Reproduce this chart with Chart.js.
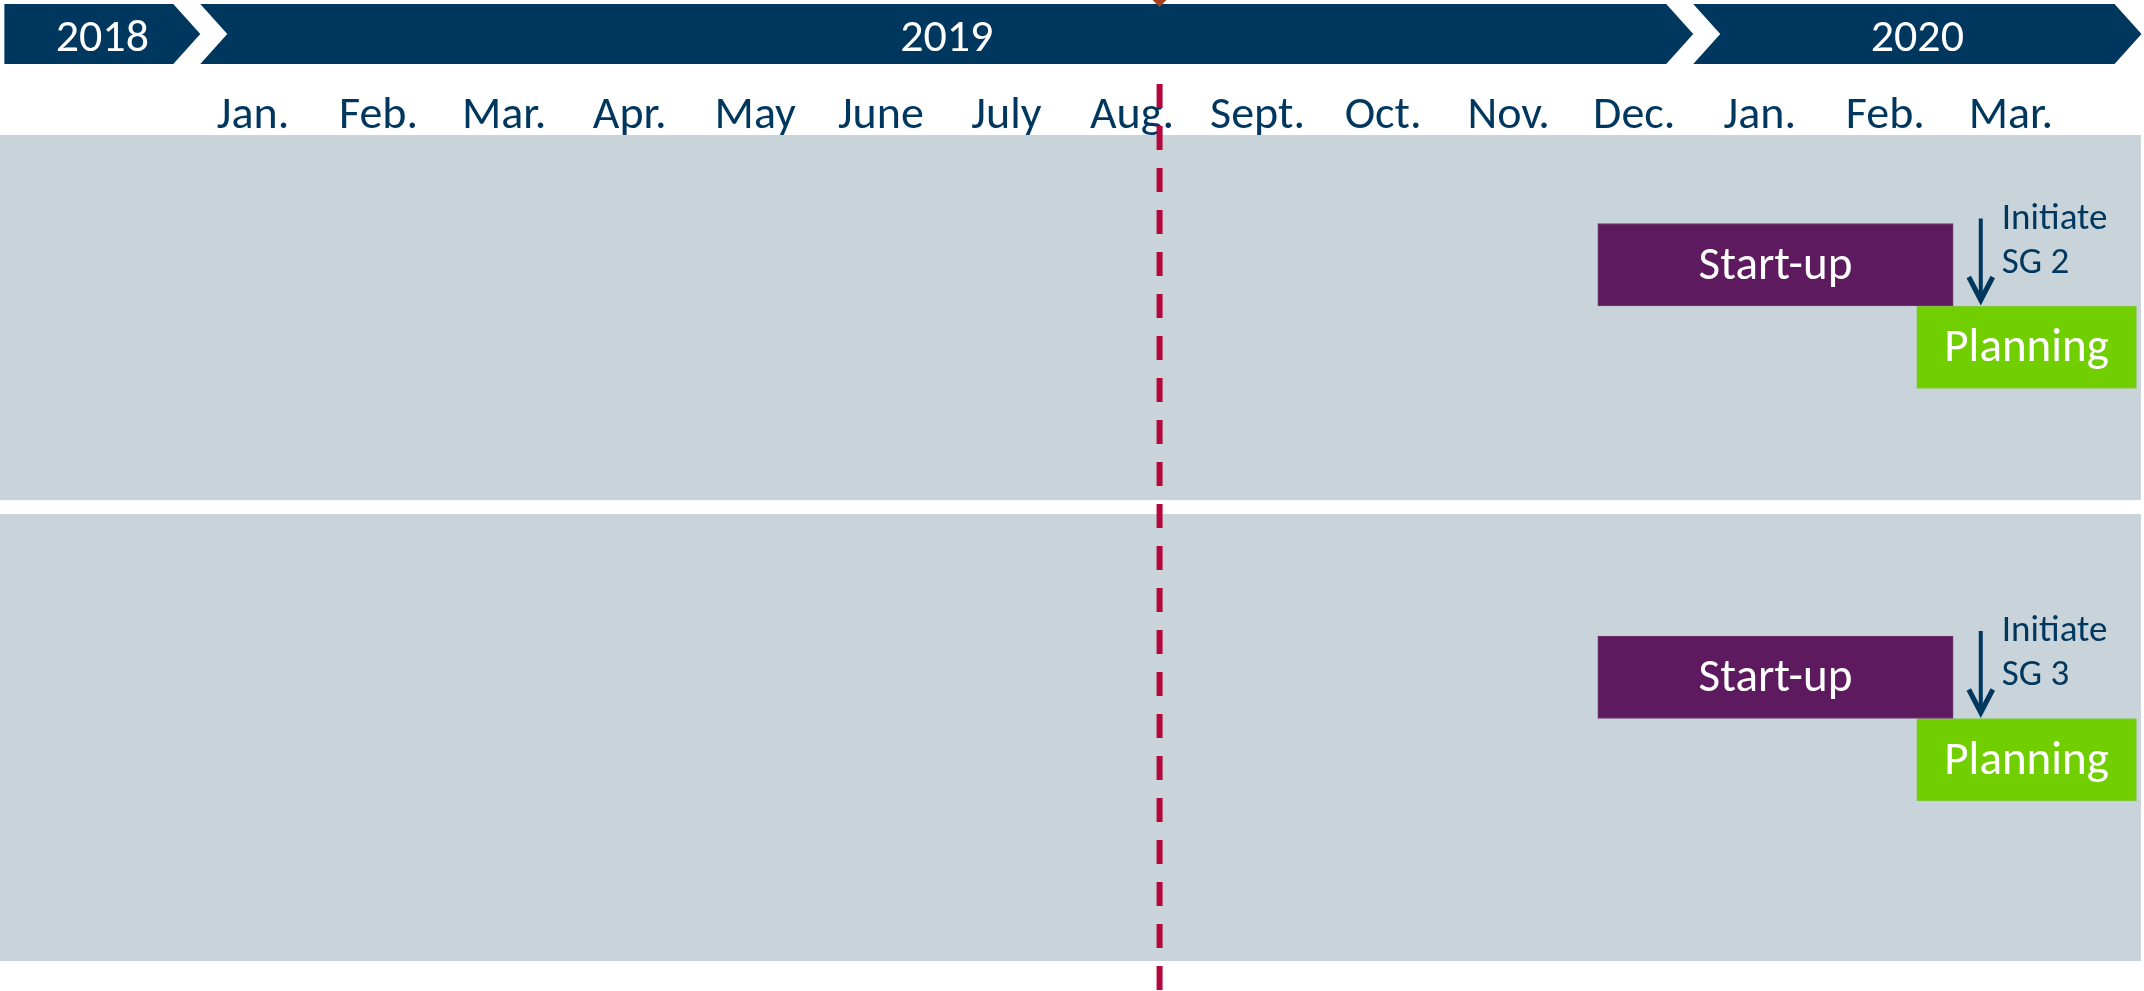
<!DOCTYPE html>
<html lang="en">
<head>
  <meta charset="UTF-8">
  <title>Stage gate timeline</title>
  <style>
    body { margin: 0; background: #fff; }
    #wrap { width: 2144px; height: 991px; }
  </style>
  <script src="https://cdn.jsdelivr.net/npm/chart.js"></script>
</head>
<body>
<div id="wrap"><canvas id="timeline"></canvas></div>
<script>
  // x values are months counted from the start of Jan. 2019
  const monthLabels = ['Jan.', 'Feb.', 'Mar.', 'Apr.', 'May', 'June', 'July', 'Aug.',
                       'Sept.', 'Oct.', 'Nov.', 'Dec.', 'Jan.', 'Feb.', 'Mar.'];
  const yearLabels = ['2018', '2019', '2020'];
  const yearStarts = [-1.48, 0.08, 11.97];
  const yearEnds = [0.08, 11.97, 15.54];

  const groups = ['SG 2', 'SG 3'];
  const startupStart = [11.21, 11.21];
  const startupEnd = [14.04, 14.04];
  const planningStart = [13.75, 13.75];
  const planningEnd = [15.5, 15.5];
  const milestones = [14.26, 14.26];
  const todayMark = 7.72;

  // rows of the swimlanes (category axis), blank rows are spacing
  const rowLabels = [' ', 'SG 2 Start-up', 'SG 2 Planning', '  ', '   ', '    ',
                     'SG 3 Start-up', 'SG 3 Planning', '     ', '      '];

  const NAVY = '#00375F';
  const FONT = 'Carlito, Lato, sans-serif';
  const panelRanges = [[-0.573, 3.853], [4.022, 9.44]];

  const timelinePlugin = {
    id: 'timeline',
    beforeDatasetsDraw(chart) {
      const ctx = chart.ctx;
      const xs = chart.scales.x, ys = chart.scales.y;
      const area = chart.chartArea;
      ctx.save();
      // swimlane panels
      ctx.fillStyle = '#C8D4D9';
      panelRanges.forEach(r => {
        const top = ys.getPixelForValue(r[0]);
        const bot = ys.getPixelForValue(r[1]);
        ctx.fillRect(area.left, top, area.right - area.left, bot - top);
      });
      // year banner
      const top = 4, bot = 64, mid = 34, d = 27;
      yearLabels.forEach((lbl, i) => {
        const a = xs.getPixelForValue(yearStarts[i]);
        const b = xs.getPixelForValue(yearEnds[i]);
        ctx.beginPath();
        ctx.moveTo(a, top);
        ctx.lineTo(b - d, top);
        ctx.lineTo(b, mid);
        ctx.lineTo(b - d, bot);
        ctx.lineTo(a, bot);
        if (i > 0) ctx.lineTo(a + d, mid);
        ctx.closePath();
        ctx.fillStyle = NAVY;
        ctx.fill();
        ctx.fillStyle = '#fff';
        ctx.font = '46px ' + FONT;
        ctx.textAlign = 'center';
        ctx.textBaseline = 'middle';
        ctx.fillText(lbl, (a + b) / 2, 39);
      });
      ctx.restore();
    },
    afterDatasetsDraw(chart) {
      const ctx = chart.ctx;
      const xs = chart.scales.x;
      ctx.save();
      // bar labels
      chart.data.datasets.forEach((ds, di) => {
        chart.getDatasetMeta(di).data.forEach(el => {
          ctx.fillStyle = '#fff';
          ctx.font = '47px ' + FONT;
          ctx.textAlign = 'center';
          ctx.textBaseline = 'middle';
          ctx.fillText(ds.label, (el.x + el.base) / 2, el.y + 2);
        });
      });
      // milestone arrows
      const suMeta = chart.getDatasetMeta(0).data;
      const plMeta = chart.getDatasetMeta(1).data;
      groups.forEach((g, i) => {
        const x = xs.getPixelForValue(milestones[i]);
        const suTop = suMeta[i].y - suMeta[i].height / 2;
        const plTop = plMeta[i].y - plMeta[i].height / 2;
        const y0 = suTop - 5, y1 = plTop - 6;
        ctx.strokeStyle = NAVY;
        ctx.lineWidth = 4;
        ctx.beginPath();
        ctx.moveTo(x, y0);
        ctx.lineTo(x, y1 - 3);
        ctx.stroke();
        ctx.lineWidth = 5;
        ctx.beginPath();
        ctx.moveTo(x - 12, y1 - 23);
        ctx.lineTo(x, y1);
        ctx.lineTo(x + 12, y1 - 23);
        ctx.stroke();
        ctx.fillStyle = NAVY;
        ctx.font = '37px ' + FONT;
        ctx.textAlign = 'left';
        ctx.textBaseline = 'middle';
        ctx.fillText('Initiate', x + 21, suTop - 4);
        ctx.fillText(g, x + 21, suTop + 40);
      });
      // today line
      const tx = xs.getPixelForValue(todayMark);
      ctx.strokeStyle = '#B5063D';
      ctx.lineWidth = 6;
      ctx.setLineDash([24, 18]);
      ctx.beginPath();
      ctx.moveTo(tx, 84);
      ctx.lineTo(tx, chart.height);
      ctx.stroke();
      ctx.setLineDash([]);
      ctx.fillStyle = '#A8401E';
      ctx.beginPath();
      ctx.moveTo(tx - 7, 0);
      ctx.lineTo(tx + 7, 0);
      ctx.lineTo(tx, 7);
      ctx.closePath();
      ctx.fill();
      ctx.restore();
    }
  };

  new Chart(document.getElementById('timeline'), {
    type: 'bar',
    data: {
      labels: rowLabels,
      datasets: [
        {
          label: 'Start-up',
          data: groups.map((g, i) => ({ x: [startupStart[i], startupEnd[i]], y: g + ' Start-up' })),
          backgroundColor: '#5E1A5E',
          borderColor: '#6E3A6E',
          borderWidth: 1,
          borderSkipped: false
        },
        {
          label: 'Planning',
          data: groups.map((g, i) => ({ x: [planningStart[i], planningEnd[i]], y: g + ' Planning' })),
          backgroundColor: '#71CE00',
          borderColor: '#86C84A',
          borderWidth: 1,
          borderSkipped: false
        }
      ]
    },
    options: {
      indexAxis: 'y',
      responsive: true,
      maintainAspectRatio: false,
      animation: false,
      grouped: false,
      categoryPercentage: 1,
      barPercentage: 1,
      layout: { padding: { top: 91, bottom: 25, left: 0, right: 3 } },
      plugins: {
        legend: { display: false },
        tooltip: { enabled: false }
      },
      scales: {
        x: {
          type: 'linear',
          position: 'top',
          min: -1.515,
          max: 15.536,
          grid: { display: false, drawTicks: false },
          border: { display: false },
          afterBuildTicks: scale => {
            scale.ticks = monthLabels.map((m, i) => ({ value: i + 0.5 }));
          },
          ticks: {
            autoSkip: false,
            maxRotation: 0,
            padding: 2,
            color: NAVY,
            font: { family: FONT, size: 46, lineHeight: 1 },
            callback: (value, index) => monthLabels[index]
          }
        },
        y: {
          type: 'category',
          display: false
        }
      }
    },
    plugins: [timelinePlugin]
  });
</script>
</body>
</html>
